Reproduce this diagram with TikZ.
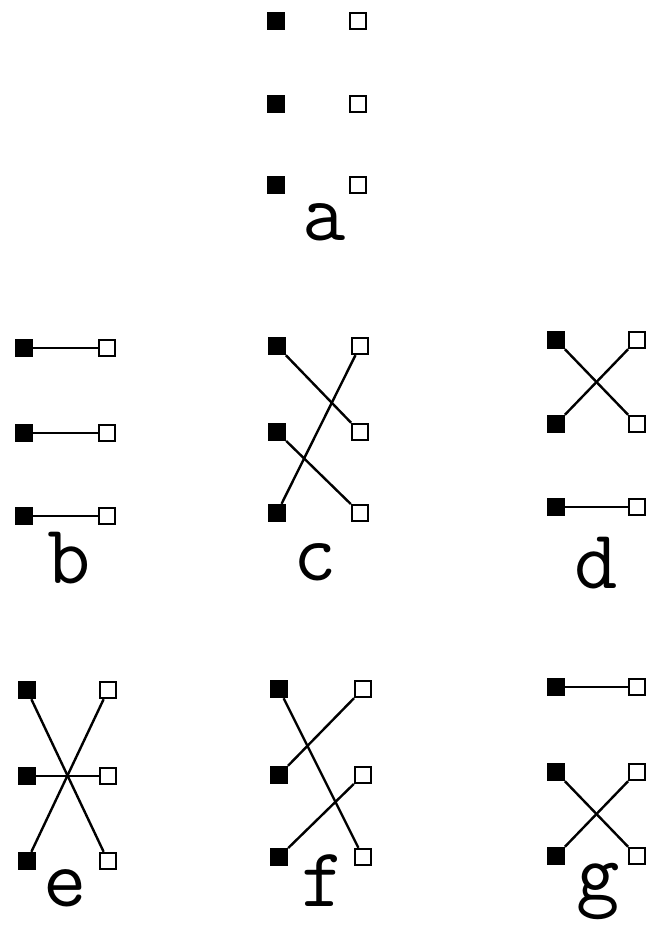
\documentclass[tikz,border=0pt]{standalone}
\usepackage{fontspec}
\tikzset{
  dot/.style={rectangle,fill=black,inner sep=0pt,minimum size=8.8pt},
  hole/.style={rectangle,draw=black,fill=white,line width=1.2pt,inner sep=0pt,minimum size=8pt},
  link/.style={line width=1.2pt},
  tag/.style={anchor=base,inner sep=0pt,font=\ttfamily\fontsize{42}{42}\selectfont}
}
\begin{document}
\begin{tikzpicture}[x=0.5pt,y=-0.5pt]
    \useasboundingbox (0,0) rectangle (655,928);
    % panel: left x / right x / three rows / label position
    \foreach \p/\xl/\xr/\ya/\yb/\yc/\tx/\ty in {a/276/358/21/104/185/324/240,
        b/24/107/348/433/516/69/583, c/277/360/346/432/513/315/580,
        d/556/637/340/424/507/596/588, e/27/108/690/776/861/65/906,
        f/279/363/689/775/857/323/906, g/556/637/687/772/856/598/900}{
      \node[dot]  (\p-l1) at (\xl,\ya) {};
      \node[dot]  (\p-l2) at (\xl,\yb) {};
      \node[dot]  (\p-l3) at (\xl,\yc) {};
      \node[hole] (\p-r1) at (\xr,\ya) {};
      \node[hole] (\p-r2) at (\xr,\yb) {};
      \node[hole] (\p-r3) at (\xr,\yc) {};
      \node[tag]  (\p-tag) at (\tx,\ty) {\p};
    }
    % pairings
    \foreach \p/\i/\j in {b/1/1,b/2/2,b/3/3, c/1/2,c/2/3,c/3/1, d/1/2,d/2/1,d/3/3,
        e/1/3,e/2/2,e/3/1, f/1/3,f/2/1,f/3/2, g/1/1,g/2/3,g/3/2}
      \draw[link] (\p-l\i) -- (\p-r\j);
  \end{tikzpicture}
\end{document}
